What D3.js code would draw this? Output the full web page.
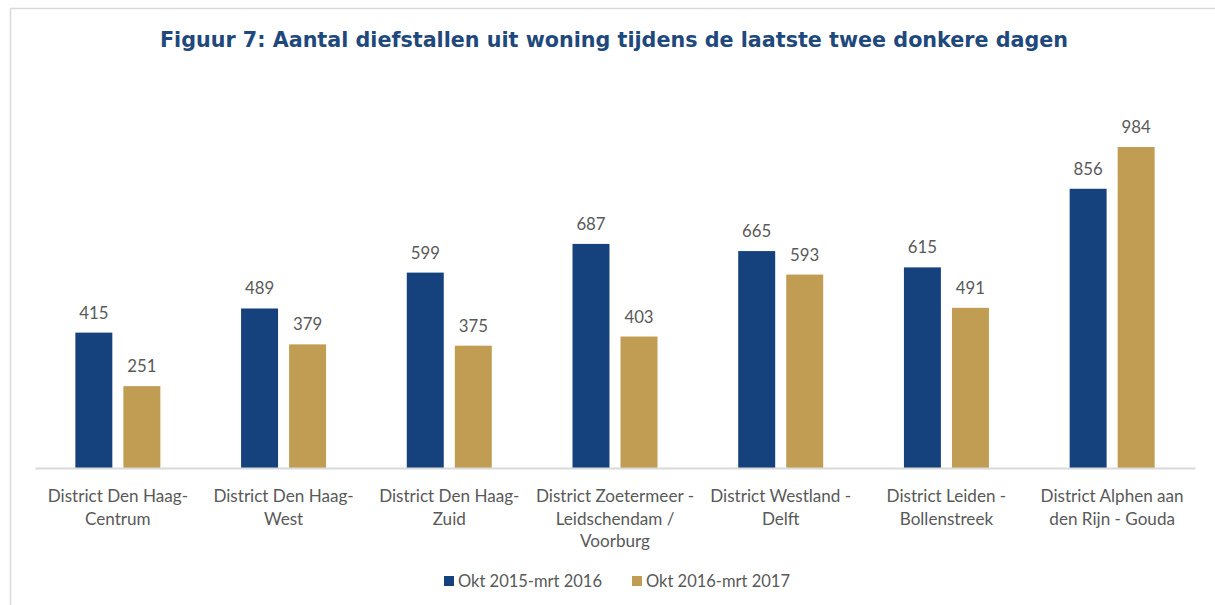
<!DOCTYPE html>
<html><head><meta charset="utf-8">
<script src="https://cdn.jsdelivr.net/npm/d3@7"></script>
<style>body{margin:0;background:#fff}svg{display:block}</style>
</head><body>
<svg id="c" width="1215" height="605"></svg>
<script>
const categories = [
  ["District Den Haag-", "Centrum"],
  ["District Den Haag-", "West"],
  ["District Den Haag-", "Zuid"],
  ["District Zoetermeer -", "Leidschendam /", "Voorburg"],
  ["District Westland -", "Delft"],
  ["District Leiden -", "Bollenstreek"],
  ["District Alphen aan", "den Rijn - Gouda"]
];
const seriesNames = ["Okt 2015-mrt 2016", "Okt 2016-mrt 2017"];
const values2016 = [415, 489, 599, 687, 665, 615, 856];
const values2017 = [251, 379, 375, 403, 593, 491, 984];
const colors = ["#15427c", "#c09d52"];
const title = "Figuur 7: Aantal diefstallen uit woning tijdens de laatste twee donkere dagen";

const svg = d3.select("#c");
const font = "Lato, 'Open Sans', sans-serif";
// frame
svg.append("path").attr("d","M10.5,605 V8.5 H1215").attr("fill","none").attr("stroke","#d9d9d9").attr("stroke-width",1.5);

svg.append("text").attr("x",614).attr("y",47).attr("text-anchor","middle")
  .attr("font-family","Verdana, 'DejaVu Sans', sans-serif").attr("font-weight","bold")
  .attr("font-size",20.7).attr("fill","#1f497d").text(title);

const left = 35, right = 1195, base = 468;
const idx = categories.map((d,i)=>i);
const x = d3.scaleBand().domain(idx).range([left,right]);
const y = d3.scaleLinear().domain([0,1200]).range([base, base-1200*0.3262]);
const inner = d3.scaleBand().domain([0,1]).range([x.bandwidth()/2-42.5, x.bandwidth()/2+42.5]).paddingInner(0.23);

const series = [values2016, values2017];
series.forEach((vals, s) => {
  const g = svg.append("g");
  g.selectAll("rect").data(vals).join("rect")
    .attr("x",(d,i)=>x(i)+inner(s)).attr("width",inner.bandwidth())
    .attr("y",d=>y(d)).attr("height",d=>base-y(d)).attr("fill",colors[s]);
  g.selectAll("text").data(vals).join("text")
    .attr("x",(d,i)=>x(i)+inner(s)+inner.bandwidth()/2).attr("y",d=>y(d)-14)
    .attr("text-anchor","middle").attr("font-family",font).attr("font-size",16.8).attr("fill","#595959")
    .text(d=>d);
});

// axis line
const axis = d3.axisBottom(x).tickSize(0).tickFormat("");
const ag = svg.append("g").attr("transform",`translate(0,${base})`).call(axis);
ag.select(".domain").attr("stroke","#d9d9d9").attr("stroke-width",2);

// category labels
categories.forEach((lines,i)=>{
  const t = svg.append("text").attr("text-anchor","middle").attr("font-family",font)
    .attr("font-size",17.1).attr("fill","#595959");
  lines.forEach((l,j)=>{
    t.append("tspan").attr("x",x(i)+x.bandwidth()/2).attr("y",502+j*22.5).text(l);
  });
});

// legend
const legX = [444, 632];
seriesNames.forEach((n,s)=>{
  svg.append("rect").attr("x",legX[s]).attr("y",576).attr("width",10).attr("height",10).attr("fill",colors[s]);
  svg.append("text").attr("x",legX[s]+14).attr("y",587).attr("font-family",font).attr("font-size",16.5)
    .attr("fill","#595959").text(n);
});
</script>
</body></html>
